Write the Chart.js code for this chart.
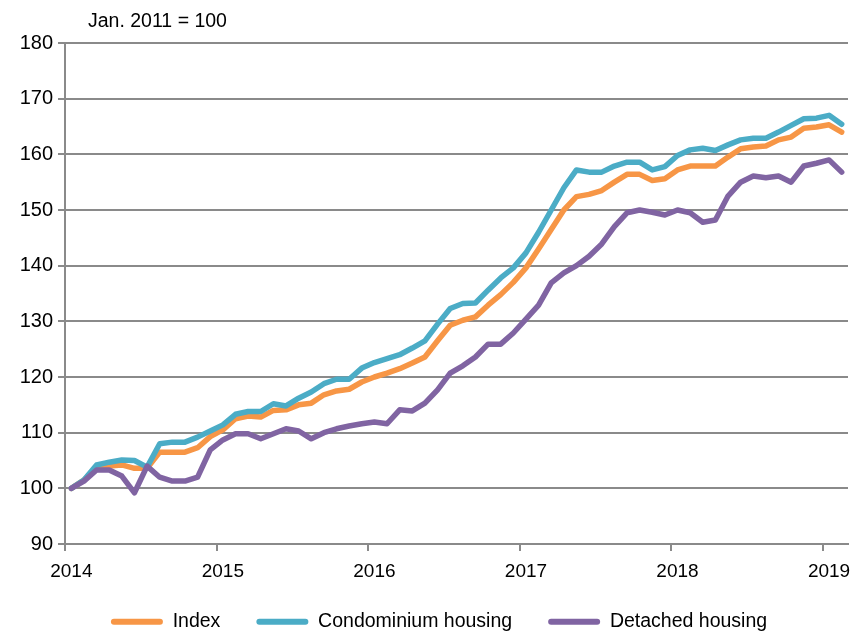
<!DOCTYPE html>
<html>
<head>
<meta charset="utf-8">
<script src="https://cdn.jsdelivr.net/npm/chart.js@4/dist/chart.umd.min.js"></script>
<style>
  html, body { margin: 0; padding: 0; background: #fff; }
  #wrap { width: 854px; height: 633px; position: relative; }
</style>
</head>
<body>
<div id="wrap"><canvas id="c" width="854" height="633"></canvas></div>
<script>
// ---- data (monthly, Jan 2014 – Feb 2019), Jan. 2011 = 100 ----
const yearLabels = ['2014', '2015', '2016', '2017', '2018', '2019'];
const seriesNames = ['Index', 'Condominium housing', 'Detached housing'];

const indexValues = [
  100, 101.5, 103.6, 104, 104.2, 103.6, 103.6, 106.5, 106.5, 106.5, 107.3, 109.3,
  110.5, 112.5, 113, 112.8, 114, 114.1, 115, 115.3, 116.8, 117.5, 117.8, 119.1,
  120, 120.7, 121.5, 122.5, 123.6, 126.5, 129.3, 130.2, 130.8, 132.9, 134.8, 137,
  139.6, 143, 146.5, 150, 152.4, 152.8, 153.5, 155, 156.4, 156.4, 155.3, 155.6,
  157.2, 157.9, 157.9, 157.9, 159.5, 161, 161.3, 161.5, 162.6, 163.1, 164.7, 164.9,
  165.3, 164
];
const condoValues = [
  100, 101.5, 104.2, 104.7, 105.1, 105, 103.8, 108, 108.3, 108.3, 109.2, 110.3,
  111.4, 113.3, 113.8, 113.8, 115.2, 114.8, 116.2, 117.3, 118.8, 119.6, 119.6, 121.6,
  122.6, 123.3, 124, 125.2, 126.5, 129.5, 132.3, 133.2, 133.3, 135.6, 137.8, 139.6,
  142.3, 146, 150, 154, 157.2, 156.8, 156.8, 157.9, 158.6, 158.6, 157.2, 157.8,
  159.8, 160.8, 161.1, 160.7, 161.7, 162.6, 162.9, 162.9, 164, 165.2, 166.4, 166.5,
  167, 165.4
];
const detachedValues = [
  100, 101.3, 103.3, 103.3, 102.2, 99.2, 104, 102, 101.3, 101.3, 102, 106.9,
  108.7, 109.8, 109.8, 108.9, 109.8, 110.7, 110.3, 108.9, 110, 110.7, 111.2, 111.6,
  111.9, 111.6, 114.1, 113.9, 115.3, 117.7, 120.7, 122, 123.6, 125.9, 125.9, 127.9,
  130.4, 132.9, 136.9, 138.7, 140, 141.7, 143.9, 147, 149.5, 150, 149.6, 149.1,
  150, 149.5, 147.8, 148.2, 152.5, 155, 156.1, 155.8, 156.1, 155, 157.9, 158.4,
  159, 156.8
];
const yTicks = [90, 100, 110, 120, 130, 140, 150, 160, 170, 180];

// one category per month; only January carries the year label
const monthLabels = indexValues.map((_, i) => (i % 12 === 0 ? yearLabels[i / 12] : ''));

// ---- styling ----
const FONT = "'Liberation Sans', Arial, sans-serif";
const colors = ['#F79646', '#4BACC6', '#8064A2'];
const gridColor = '#8a8a8a';

const allSeries = [indexValues, condoValues, detachedValues];
const datasets = allSeries.map((vals, k) => ({
  label: seriesNames[k],
  data: vals,
  borderColor: colors[k],
  backgroundColor: colors[k],
  borderWidth: 5.5,
  pointRadius: 0,
  tension: 0,
  borderJoinStyle: 'round',
  borderCapStyle: 'round',
  order: 3 - k
}));

const X_AXIS_H = 48;
const LEGEND_H = 633 - 544 - X_AXIS_H;
const layoutPlugin = {
  id: 'legendTweak',
  beforeLayout(chart) {
    const lg = chart.legend;
    if (lg && !lg._patched) {
      const f = lg.fit;
      lg.fit = function () { f.call(this); this.height = LEGEND_H; };
      lg._patched = true;
    }
  },
  afterLayout(chart) {
    const lg = chart.legend;
    if (lg) {
      lg.left += 15; lg.right += 15;
      lg.top = 576; lg.bottom = 633;
    }
  }
};

const textPlugin = {
  id: 'texts',
  afterDraw(chart) {
    const ctx = chart.ctx;
    ctx.save();
    ctx.fillStyle = '#000';
    ctx.textBaseline = 'alphabetic';
    ctx.textAlign = 'left';
    ctx.font = "19.5px " + FONT;
    ctx.fillText('Jan. 2011 = 100', 88, 27);
    ctx.restore();
  }
};

new Chart(document.getElementById('c'), {
  type: 'line',
  data: { labels: monthLabels, datasets },
  plugins: [layoutPlugin, textPlugin],
  options: {
    responsive: false,
    animation: false,
    layout: { padding: { left: 0, right: 6, top: 43, bottom: 0 } },
    plugins: {
      title: { display: false },
      tooltip: { enabled: false },
      legend: {
        position: 'bottom',
        labels: {
          font: { family: FONT, size: 19.5 },
          color: '#000',
          boxWidth: 52,
          boxHeight: 6,
          padding: 36,
          useBorderRadius: true,
          borderRadius: 3,
          sort: (a, b) => a.datasetIndex - b.datasetIndex,
          generateLabels(chart) {
            return chart.data.datasets.map((ds, i) => ({
              text: ds.label,
              fillStyle: ds.borderColor,
              strokeStyle: ds.borderColor,
              lineWidth: 0,
              borderRadius: 3,
              fontColor: '#000',
              hidden: false,
              datasetIndex: i
            }));
          }
        }
      }
    },
    scales: {
      x: {
        type: 'category',
        offset: true,
        afterFit(scale) { scale.height = X_AXIS_H; },
        ticks: {
          font: { family: FONT, size: 19 },
          color: '#000',
          padding: 9,
          maxRotation: 0,
          minRotation: 0,
          autoSkip: false
        },
        grid: {
          offset: true,
          drawOnChartArea: false,
          drawTicks: true,
          tickLength: 7,
          color: (c) => (c.index % 12 === 0 ? gridColor : 'rgba(0,0,0,0)'),
          lineWidth: 2
        },
        border: { display: true, color: gridColor, width: 2 }
      },
      y: {
        min: 90,
        max: 180,
        afterBuildTicks(scale) {
          scale.ticks = yTicks.map(v => ({ value: v }));
        },
        afterFit(scale) { scale.width = 65; },
        ticks: {
          font: { family: FONT, size: 20 },
          color: '#000',
          padding: 5
        },
        grid: {
          color: gridColor,
          lineWidth: 2,
          tickLength: 7,
          drawTicks: true
        },
        border: { display: true, color: gridColor, width: 2 }
      }
    }
  }
});
</script>
</body>
</html>
